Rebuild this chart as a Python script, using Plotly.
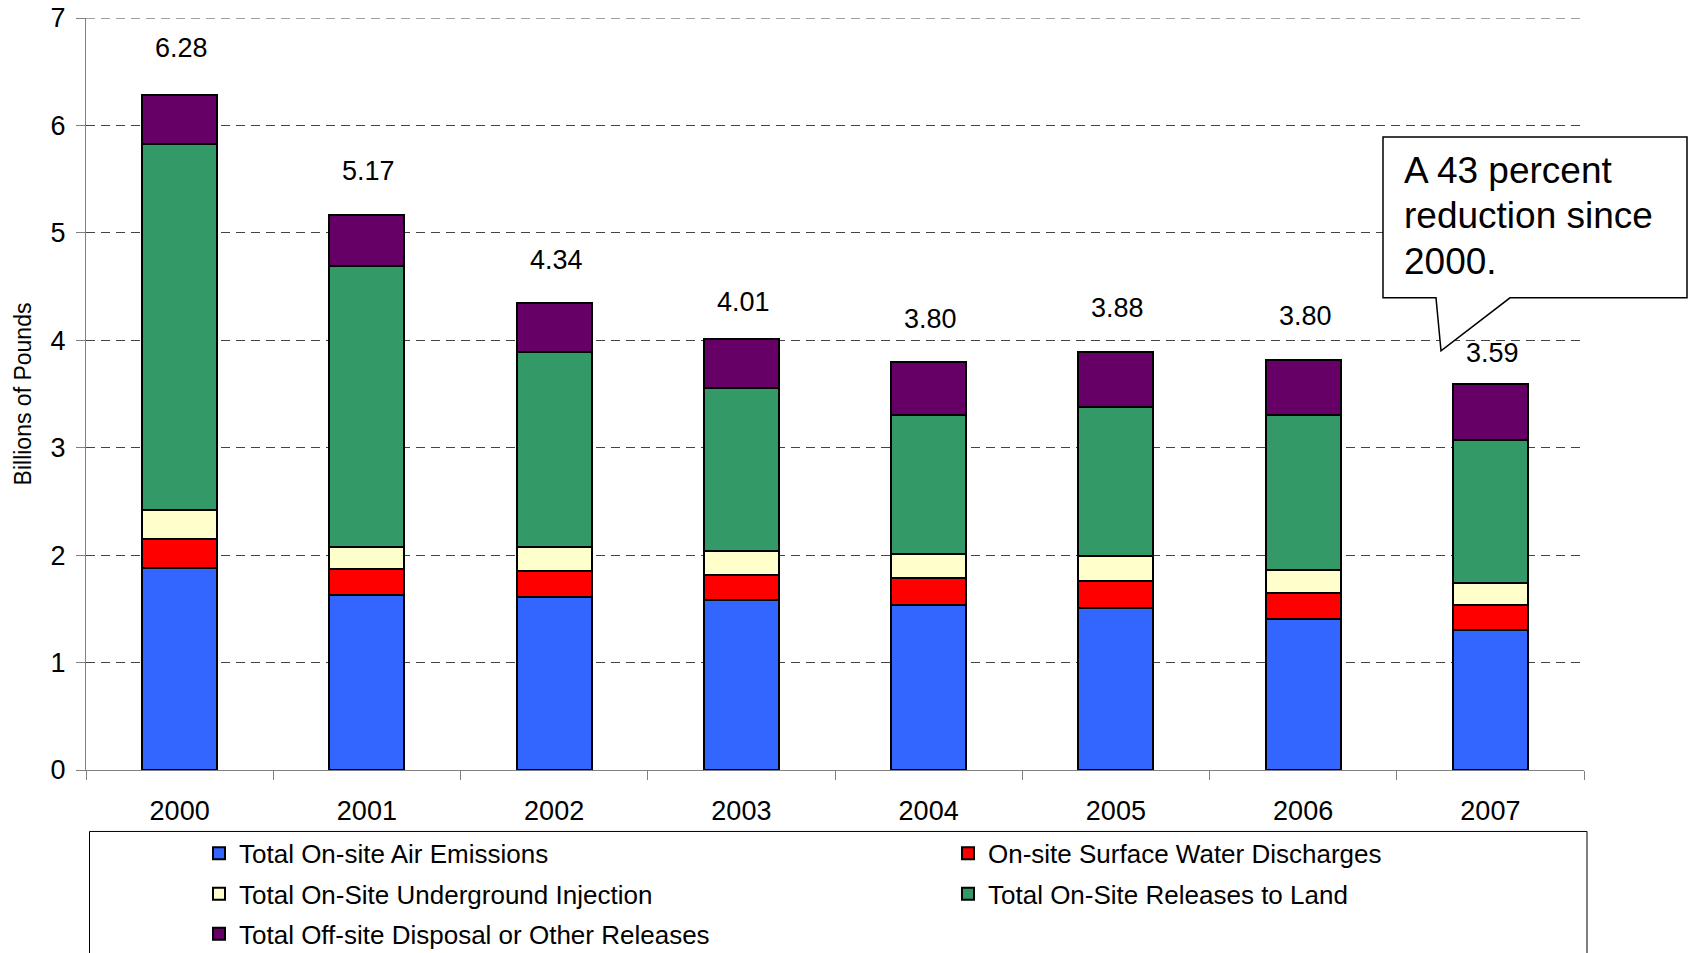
import plotly.graph_objects as go

years = ["2000", "2001", "2002", "2003", "2004", "2005", "2006", "2007"]
air_emissions = [1.884, 1.626, 1.611, 1.580, 1.537, 1.509, 1.406, 1.307]
surface_water = [0.269, 0.244, 0.239, 0.232, 0.247, 0.251, 0.245, 0.233]
underground_injection = [0.267, 0.210, 0.223, 0.224, 0.230, 0.229, 0.214, 0.201]
releases_to_land = [3.405, 2.616, 1.817, 1.519, 1.293, 1.386, 1.435, 1.327]
offsite_disposal = [0.460, 0.471, 0.456, 0.459, 0.493, 0.512, 0.519, 0.527]
total_labels = ["6.28", "5.17", "4.34", "4.01", "3.80", "3.88", "3.80", "3.59"]
callout_lines = ["A 43 percent", "reduction since", "2000."]
y_max = 7

series = [
    ("Total On-site Air Emissions", air_emissions, "#3366FF", "legend"),
    ("On-site Surface Water Discharges", surface_water, "#FF0000", "legend"),
    ("Total On-Site Underground Injection", underground_injection, "#FFFFCC", "legend2"),
    ("Total On-Site Releases to Land", releases_to_land, "#339966", "legend2"),
    ("Total Off-site Disposal or Other Releases", offsite_disposal, "#660066", "legend3"),
]

FONT = "Liberation Sans, Arial, sans-serif"
W, H = 1692, 953
L, R, T, B = 86, 1584, 18, 770.5
GRID_COLOR = "#444444"
GRID_DASH = "9px,6px"

def px(x):
    return (x - L) / (R - L)

def py(y):
    return (B - y) / (B - T)

fig = go.Figure()
for name, vals, color, lg in series:
    fig.add_trace(go.Bar(
        x=years, y=vals, name=name, legend=lg,
        marker=dict(color=color, line=dict(color="black", width=2)),
        hoverinfo="x+y+name",
    ))

totals = [sum(v) for v in zip(air_emissions, surface_water, underground_injection,
                               releases_to_land, offsite_disposal)]
label_shift = [47, 44, 43, 37, 43, 44, 44, 31]
for i, (tot, lab, sh) in enumerate(zip(totals, total_labels, label_shift)):
    fig.add_annotation(x=i, y=tot, text=lab, showarrow=False, yanchor="middle",
                       yshift=sh, xshift=2, font=dict(size=27, color="black", family=FONT))

# top gridline (plotly omits the one on the range edge)
fig.add_shape(type="line", xref="paper", yref="y", x0=0, x1=1, y0=y_max, y1=y_max,
              line=dict(color=GRID_COLOR, width=1, dash=GRID_DASH), layer="below")

# callout box
bx0, bx1, by0, by1 = 1383, 1687, 137, 298
tip = (1441, 351)
pts = [(bx0, by0), (bx1, by0), (bx1, by1), (1510, by1), tip, (1436, by1), (bx0, by1)]
path = "M " + " L ".join(f"{px(a):.5f},{py(b):.5f}" for a, b in pts) + " Z"
fig.add_shape(type="path", path=path, xref="paper", yref="paper",
              fillcolor="white", line=dict(color="black", width=1.5), layer="above")
for k, line in enumerate(callout_lines):
    fig.add_annotation(x=px(1402), y=py(216 + (k - 1) * 45.5), xref="paper", yref="paper",
                       text=line, showarrow=False, xanchor="left", yanchor="middle",
                       align="left", font=dict(size=37, color="black", family=FONT))

# legend frame
fig.add_shape(type="rect", xref="paper", yref="paper",
              x0=px(89.5), x1=px(1587), y0=py(832), y1=py(965),
              line=dict(color="black", width=1), fillcolor="rgba(0,0,0,0)", layer="above")

leg_common = dict(orientation="h", xanchor="left", yanchor="middle", traceorder="normal",
                  font=dict(size=26, color="black", family=FONT), bgcolor="rgba(0,0,0,0)",
                  borderwidth=0, entrywidth=704, x=px(199))
fig.update_layout(
    legend=dict(**leg_common, y=py(854)),
    legend2=dict(**leg_common, y=py(894.5)),
    legend3=dict(**leg_common, y=py(934.5)),
)

fig.update_layout(
    width=W, height=H,
    margin=dict(l=L, r=W - R, t=T, b=H - B, autoexpand=False),
    barmode="stack", bargap=0.6,
    paper_bgcolor="white", plot_bgcolor="white",
    font=dict(family=FONT, color="black"),
    showlegend=True,
    xaxis=dict(type="category", range=[-0.5, 7.5], showline=True, linecolor="#808080",
               linewidth=1, ticks="outside", tickson="boundaries", ticklen=9,
               tickcolor="#808080", tickangle=0, ticklabelstandoff=17,
               tickfont=dict(size=27, color="black", family=FONT), showgrid=False,
               automargin=False),
    yaxis=dict(range=[0, y_max], tick0=0, dtick=1, showline=True, linecolor="#808080", linewidth=1,
               ticks="outside", ticklen=9, tickcolor="#808080",
               tickfont=dict(size=27, color="black", family=FONT),
               showgrid=True, gridcolor=GRID_COLOR, griddash=GRID_DASH, gridwidth=1,
               zeroline=False, ticklabelstandoff=5, automargin=False,
               title=dict(text="Billions of Pounds", font=dict(size=23, color="black", family=FONT),
                          standoff=12)),
)

fig.write_html("out.html", config={"displayModeBar": False},
               post_script="document.body.style.margin='0';")
